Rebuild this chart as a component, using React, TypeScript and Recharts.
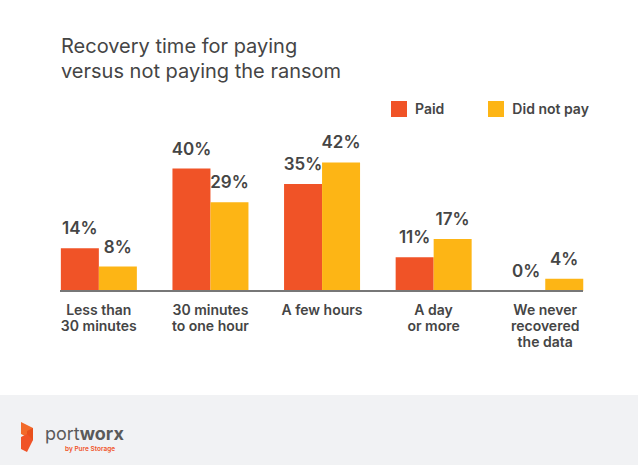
import { BarChart, Bar, XAxis, YAxis, LabelList } from 'recharts';

const categories = [
  'Less than\n30 minutes',
  '30 minutes\nto one hour',
  'A few hours',
  'A day\nor more',
  'We never\nrecovered\nthe data',
];
const paid = [14, 40, 35, 11, 0];
const didNotPay = [8, 29, 42, 17, 4];

const ORANGE = '#F05327';
const YELLOW = '#FDB515';
const TEXT = '#454545';
const FONT = 'Inter, "Noto Sans", sans-serif';

const data = categories.map((name, i) => ({
  name,
  paid: paid[i],
  didNotPay: didNotPay[i],
}));

function CategoryTick(props: any) {
  const { x, y, payload } = props;
  const lines = String(payload.value).split('\n');
  return (
    <text x={x} y={y} textAnchor="middle" fill={TEXT} fontSize={14} fontWeight={600} fontFamily={FONT}>
      {lines.map((line, i) => (
        <tspan key={i} x={x} dy={16}>
          {line}
        </tspan>
      ))}
    </text>
  );
}

function ValueLabel(props: any) {
  const { x, y, width, value } = props;
  return (
    <text x={x + width / 2} y={y - 14} textAnchor="middle" fill={TEXT} fontSize={17} fontWeight={600} fontFamily={FONT}>
      {`${value}%`}
    </text>
  );
}

const legendItems = [
  { label: 'Paid', color: ORANGE },
  { label: 'Did not pay', color: YELLOW },
];

export default function App() {
  return (
    <div style={{ position: 'fixed', left: 0, top: 0, width: 638, height: 465, background: '#fff', fontFamily: FONT, overflow: 'hidden' }}>
      <div style={{ position: 'absolute', left: 61, top: 34, fontSize: 20, lineHeight: '25px', color: TEXT, fontWeight: 400 }}>
        Recovery time for paying
        <br />
        versus not paying the ransom
      </div>
      <div style={{ position: 'absolute', left: 391, top: 101, display: 'flex', fontSize: 14, fontWeight: 600, color: TEXT }}>
        {legendItems.map((it) => (
          <div key={it.label} style={{ display: 'flex', alignItems: 'center', marginRight: 44, lineHeight: '16px' }}>
            <span style={{ width: 16, height: 16, background: it.color, display: 'inline-block', marginRight: 8 }} />
            {it.label}
          </div>
        ))}
      </div>
      <BarChart
        width={638}
        height={395}
        data={data}
        margin={{ top: 138, right: 37, bottom: 44, left: 43 }}
        barCategoryGap="16%"
        barGap={0}
      >
        <XAxis dataKey="name" axisLine={false} tickLine={false} interval={0} height={60} tick={<CategoryTick />} />
        <YAxis hide domain={[0, 50]} />
        <Bar dataKey="paid" name="Paid" fill={ORANGE} minPointSize={0.5} isAnimationActive={false}>
          <LabelList dataKey="paid" content={<ValueLabel />} />
        </Bar>
        <Bar dataKey="didNotPay" name="Did not pay" fill={YELLOW} isAnimationActive={false}>
          <LabelList dataKey="didNotPay" content={<ValueLabel />} />
        </Bar>
      </BarChart>
      <div style={{ position: 'absolute', left: 60, top: 290, width: 523, height: 2, background: '#777' }} />
      <div style={{ position: 'absolute', left: 0, top: 395, width: 638, height: 70, background: '#F1F2F4' }}>
        <svg width={130} height={50} style={{ position: 'absolute', left: 15, top: 24 }}>
          <polygon points="6,3 18,9 18,21 6,15" fill="#F26A2A" />
          <polygon points="18,9 18,21 12,24 12,12" fill="#E8501C" />
          <polygon points="6,18 12,15 18,21 12,33 6,30" fill="#F05327" />
          <text x={30} y={21} fontSize={18} fill="#5a5a5a" fontFamily={FONT}>
            port<tspan fontWeight={700}>worx</tspan>
          </text>
          <text x={50} y={32} fontSize={6.5} fill={ORANGE} fontWeight={600} fontFamily={FONT}>
            by Pure Storage
          </text>
        </svg>
      </div>
    </div>
  );
}
